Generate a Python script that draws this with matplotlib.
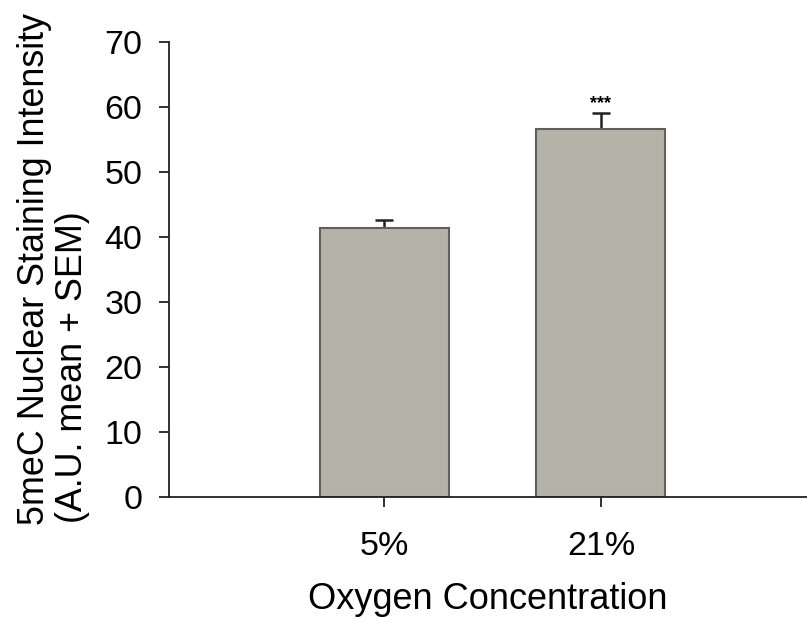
import matplotlib
matplotlib.use("Agg")
import matplotlib.pyplot as plt
import numpy as np

categories = ["5%", "21%"]
means = [41.5, 56.7]
sems = [1.1, 2.35]
significance = ["", "***"]
ylabel_lines = ["5meC Nuclear Staining Intensity", "(A.U. mean + SEM)"]

plt.rcParams['font.family'] = ['Liberation Sans', 'DejaVu Sans']

W, H = 807, 618
fig = plt.figure(figsize=(W / 100, H / 100), dpi=100)
ax = fig.add_axes([169 / W, (H - 497.3) / H, (W - 169) / W, 455 / H])

x = np.arange(len(categories))
# symmetric error bars drawn beneath the bars so only the upper half shows
ax.errorbar(x, means, yerr=sems, fmt="none", ecolor="#222222",
            elinewidth=1.8, capsize=6.5, capthick=1.8, zorder=1)
ax.bar(x, means, width=0.596, color="#b5b3a8", edgecolor="#5f5f5f", linewidth=1.5, zorder=2)
for xi, m, s, sig in zip(x, means, sems, significance):
    if sig:
        ax.annotate(sig, (xi, m + s), xytext=(0, 1), textcoords="offset points",
                    ha="center", va="bottom", fontsize=13, fontweight="bold")

ax.set_xlim(-0.995, 1.952)
ax.set_ylim(0, 70)
ax.set_yticks(np.arange(0, 71, 10))
ax.set_xticks(x)
ax.set_xticklabels(categories)
ax.spines["top"].set_visible(False)
ax.spines["right"].set_visible(False)
for sp in ["left", "bottom"]:
    ax.spines[sp].set_linewidth(1.3)
    ax.spines[sp].set_color("#222222")
ax.tick_params(axis="both", direction="out", length=7, width=1.3, color="#222222")
ax.tick_params(axis="y", labelsize=24.5, pad=12)
ax.tick_params(axis="x", labelsize=24.5, pad=17)

ax.set_xlabel("Oxygen Concentration", fontsize=26, labelpad=15)
# two-line y label, lines aligned at their start (bottom)
fig.text(44 / W, 1 - 525 / H, ylabel_lines[0], rotation=90, rotation_mode="anchor",
         ha="left", va="baseline", fontsize=25.8)
fig.text(82 / W, 1 - 523 / H, ylabel_lines[1], rotation=90, rotation_mode="anchor",
         ha="left", va="baseline", fontsize=25.8)

fig.savefig("out.png", dpi=100)
